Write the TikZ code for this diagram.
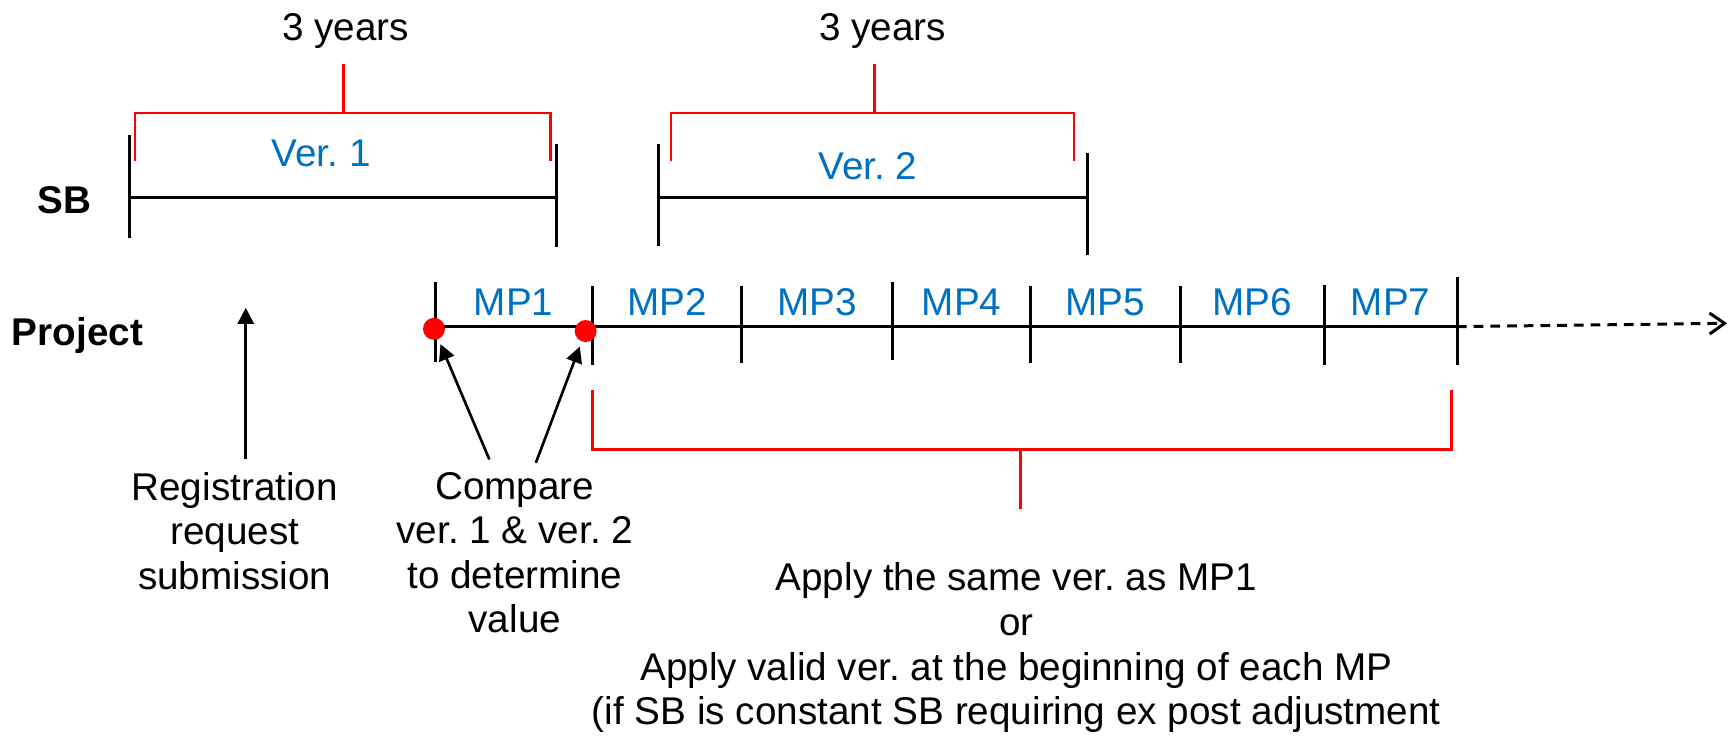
\documentclass[tikz,border=0pt]{standalone}
\usepackage{fontspec}
\setmainfont{Liberation Sans}
\usetikzlibrary{positioning, arrows.meta, calc}
\definecolor{verblue}{HTML}{0070C0}
\definecolor{brkred}{HTML}{FF0000}
\frenchspacing

\tikzset{
  txt/.style={font=\fontsize{22}{25.4}\selectfont, align=center, inner sep=0pt},
  vertxt/.style={txt, text=verblue},
  boldtxt/.style={txt, font=\fontsize{22}{25.4}\selectfont\bfseries},
  tick/.style={line width=1.7pt},
  brk/.style={draw=brkred, line width=1.6pt},
  dot/.style={circle, fill=brkred, inner sep=0pt, minimum size=0.44cm},
  arr/.style={line width=1.5pt, -{Triangle[length=0.32cm, width=0.32cm]}}
}

\begin{document}
\begin{tikzpicture}[x=0.02214cm, y=-0.02214cm]
  \clip (0,0) rectangle (1568,666);

  % Labels
  \node[boldtxt, anchor=base] (sb) at (58,193) {SB};
  \node[boldtxt, anchor=base] (proj) at (70,312) {Project};
  \node[txt, anchor=base] (yrs1) at (312,37) {3 years};
  \node[txt, anchor=base] (yrs2) at (797,37) {3 years};
  \node[vertxt, anchor=base] (ver1) at (290,150) {Ver. 1};
  \node[vertxt, anchor=base] (ver2) at (784,162) {Ver. 2};

  % SB versions
  \foreach \x/\t/\b in {117/122/215, 503/130/223, 595/130/222, 982/138/230}
  \draw[tick] (\x,\t) -- (\x,\b);
  \draw[tick] (117,178) -- (503,178);
  \draw[tick] (595,178) -- (982,178);
  \foreach \l/\r/\m in {122/497/310, 606/970/790}
  {
    \draw[brk] (\l,145) -- (\l,102) -- (\r,102) -- (\r,145);
    \draw[brk] (\m,102) -- (\m,58);
  }

  % Project periods
  \foreach \x/\t/\b [count=\i] in {393/255/327, 535/258/330, 670/258/328, 806/255/325, 931/258/328, 1066/258/328, 1196/257/330, 1316/250/330}
  {
    \draw[tick] (\x,\t) -- (\x,\b);
    \coordinate (p\i) at (\x,295);
  }
  \draw[tick] (p1) -- (p8);
  \coordinate (fut) at (1560,292);
  \draw[tick, dash pattern=on 5.5pt off 4pt, -{Straight Barb[length=0.3cm, width=0.42cm]}] (p8) -- (fut);
  \foreach \i in {1,...,7}
  {
    \pgfmathtruncatemacro{\j}{\i+1}
    \node[vertxt, anchor=base] (mp\i) at ($(p\i)!0.5!(p\j)+(0,-10)$) {MP\i};
  }
  \node[dot] (d1) at (392,297) {};
  \node[dot] (d2) at (529,299) {};

  % Notes
  \node[txt, anchor=north] (reg) at (212,426) {Registration\\request\\submission};
  \node[txt, anchor=north] (cmp) at (465,426) {Compare\\ver. 1 \& ver. 2\\to determine\\value};
  \node[txt, anchor=north] (apply) at (918,508) {Apply the same ver. as MP1\\or\\Apply valid ver. at the beginning of each MP\\(if SB is constant SB requiring ex post adjustment};

  % Arrows
  \coordinate (regtip) at (222,278);
  \draw[arr] ($(reg.north)+(10,-11)$) -- (regtip);
  \draw[arr, shorten >=3pt] ($(cmp.north)+(-23,-11)$) -- (d1);
  \draw[arr, shorten >=3pt] ($(cmp.north)+(19,-8)$) -- (d2);

  % Bracket for MP2 onwards
  \draw[brk] (535,352) -- (535,406) -- (1311,406) -- (1311,352);
  \draw[brk] (922,406) -- (922,460);
\end{tikzpicture}
\end{document}
